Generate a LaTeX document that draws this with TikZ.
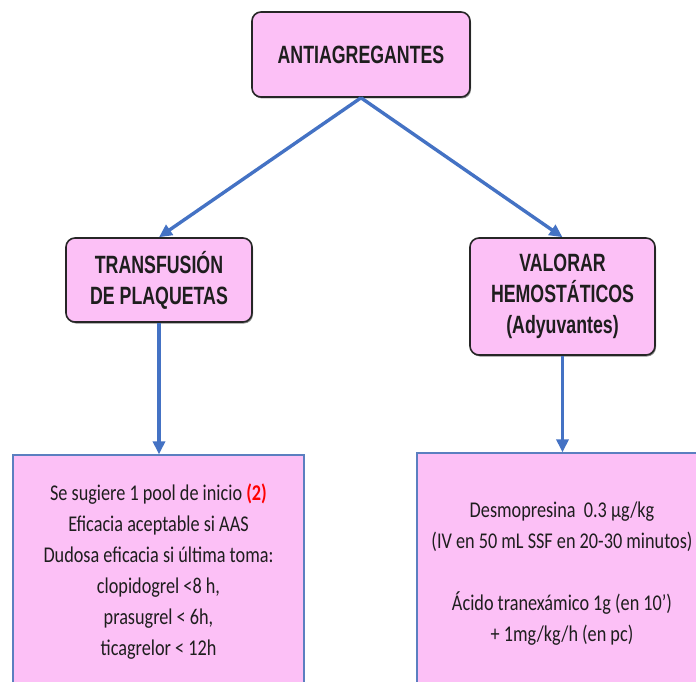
\documentclass[tikz,border=0pt]{standalone}
\usepackage{fontspec}
\setmainfont{Carlito}
\newfontfamily\hdrfont[FakeStretch=0.71]{Liberation Sans}
\newfontfamily\bodyfont[FakeStretch=0.81]{Carlito}
\usetikzlibrary{arrows.meta,shadows}
\definecolor{boxpink}{HTML}{FCC0F6}
\definecolor{arrowblue}{HTML}{4472C4}
\definecolor{boxblue}{HTML}{5B7FC0}
\definecolor{txt}{HTML}{1E1E1E}
\begin{document}
\begin{tikzpicture}[x=1pt,y=-1pt,
  hdr/.style={draw=black!85, line width=1.6pt, fill=boxpink, rounded corners=9pt,
    align=center, text=txt, inner sep=0pt,
    font=\hdrfont\bfseries\fontsize{25}{31}\selectfont,
    drop shadow={shadow xshift=1pt, shadow yshift=-1.5pt, opacity=0.45, fill=black}},
  info/.style={draw=boxblue, line width=1.3pt, fill=boxpink, align=center, text=txt,
    inner sep=0pt, font=\bodyfont\fontsize{22.5}{31}\selectfont},
  conn/.style={draw=arrowblue, line width=3.4pt,
    -{Triangle[length=13pt,width=12pt]}}]
\useasboundingbox (0,0) rectangle (696,682);
\clip (0,0) rectangle (696,682);
\fill[white] (0,0) rectangle (696,682);

\node[hdr, minimum width=218pt, minimum height=85pt] (top) at (361,54.5) {ANTIAGREGANTES};
\node[hdr, minimum width=186pt, minimum height=84pt] (left) at (159,280) {TRANSFUSIÓN\\DE PLAQUETAS};
\node[hdr, minimum width=185pt, minimum height=117pt] (right) at (562.5,296.5) {VALORAR\\HEMOSTÁTICOS\\(Adyuvantes)};

\node[info, minimum width=291pt, minimum height=233pt] (bl) at (158.5,571.5)
  {Se sugiere 1 pool de inicio \textcolor{red}{\bfseries(2)}\\
   Eficacia aceptable si AAS\\
   Dudosa eficacia si última toma:\\
   clopidogrel <8 h,\\
   prasugrel < 6h,\\
   ticagrelor < 12h};
\node[info, minimum width=290pt, minimum height=241pt] (br) at (562,573.5)
  {Desmopresina\ \ 0.3 µg/kg\\
   (IV en 50 mL SSF en 20-30 minutos)\\[31pt]
   Ácido tranexámico 1g (en 10’)\\
   + 1mg/kg/h (en pc)};

\draw[conn] (top.south) -- (left.north);
\draw[conn] (top.south) -- (right.north);
\draw[conn] (left.south) -- (left.south |- bl.north);
\draw[conn] (right.south) -- (right.south |- br.north);
\end{tikzpicture}
\end{document}
